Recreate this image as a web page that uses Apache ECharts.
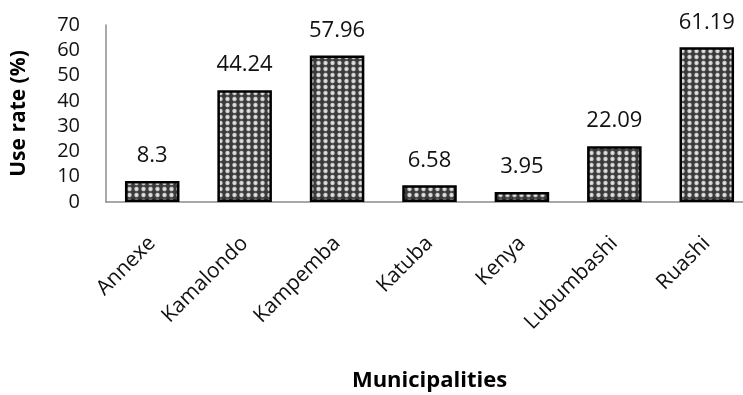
<!DOCTYPE html>
<html>
<head>
<meta charset="utf-8">
<script src="https://cdn.jsdelivr.net/npm/echarts@6/dist/echarts.min.js"></script>
<style>
  html, body { margin: 0; padding: 0; background: #fff; }
  #chart { width: 743px; height: 395px; }
</style>
</head>
<body>
<div id="chart"></div>
<script>
const categories = ['Annexe', 'Kamalondo', 'Kampemba', 'Katuba', 'Kenya', 'Lubumbashi', 'Ruashi'];
const useRate = [8.3, 44.24, 57.96, 6.58, 3.95, 22.09, 61.19];
const yTicks = [0, 10, 20, 30, 40, 50, 60, 70];

// dotted fill for the bars: dark grey ground with soft light dots
function dotPattern() {
  const w = 7, h = 6;
  const c = document.createElement('canvas');
  c.width = w; c.height = h;
  const g = c.getContext('2d');
  g.fillStyle = '#3a3a3a';
  g.fillRect(0, 0, w, h);
  const grad = g.createRadialGradient(w / 2, h / 2, 0, w / 2, h / 2, 3.2);
  grad.addColorStop(0, '#f2f2f2');
  grad.addColorStop(0.55, '#c4c4c4');
  grad.addColorStop(1, 'rgba(58,58,58,0)');
  g.fillStyle = grad;
  g.fillRect(0, 0, w, h);
  return c;
}

const font = 'Open Sans, Liberation Sans, sans-serif';
const chart = echarts.init(document.getElementById('chart'));
chart.setOption({
  animation: false,
  grid: { left: 106, right: -10, top: 25, bottom: 193, containLabel: false, outerBoundsMode: 'none' },
  xAxis: {
    type: 'category',
    data: categories,
    axisLine: { lineStyle: { color: '#8c8c8c', width: 1.5 } },
    axisTick: { show: false },
    axisLabel: { rotate: 45, color: '#111', fontSize: 21, fontFamily: font, margin: 38 },
    name: 'Municipalities',
    nameLocation: 'middle',
    nameGap: 168,
    nameTextStyle: { fontSize: 22, fontWeight: 'bold', color: '#000', fontFamily: font }
  },
  yAxis: {
    type: 'value',
    min: yTicks[0],
    max: yTicks[yTicks.length - 1],
    interval: 10,
    splitLine: { show: false },
    axisLine: { show: true, lineStyle: { color: '#8c8c8c', width: 1.5 } },
    axisTick: { show: false },
    axisLabel: { color: '#111', fontSize: 20, fontFamily: font, margin: 26 },
    name: 'Use rate (%)',
    nameLocation: 'middle',
    nameGap: 76,
    nameRotate: 90,
    nameTextStyle: { fontSize: 21, fontWeight: 'bold', color: '#000', fontFamily: font }
  },
  series: [{
    type: 'bar',
    data: useRate,
    barWidth: '59%',
    itemStyle: {
      color: { image: dotPattern(), repeat: 'repeat' },
      borderColor: '#000',
      borderWidth: 2.5
    },
    label: {
      show: true,
      position: 'top',
      distance: 14,
      color: '#111',
      fontSize: 22,
      fontFamily: font
    }
  }]
});
</script>
</body>
</html>
